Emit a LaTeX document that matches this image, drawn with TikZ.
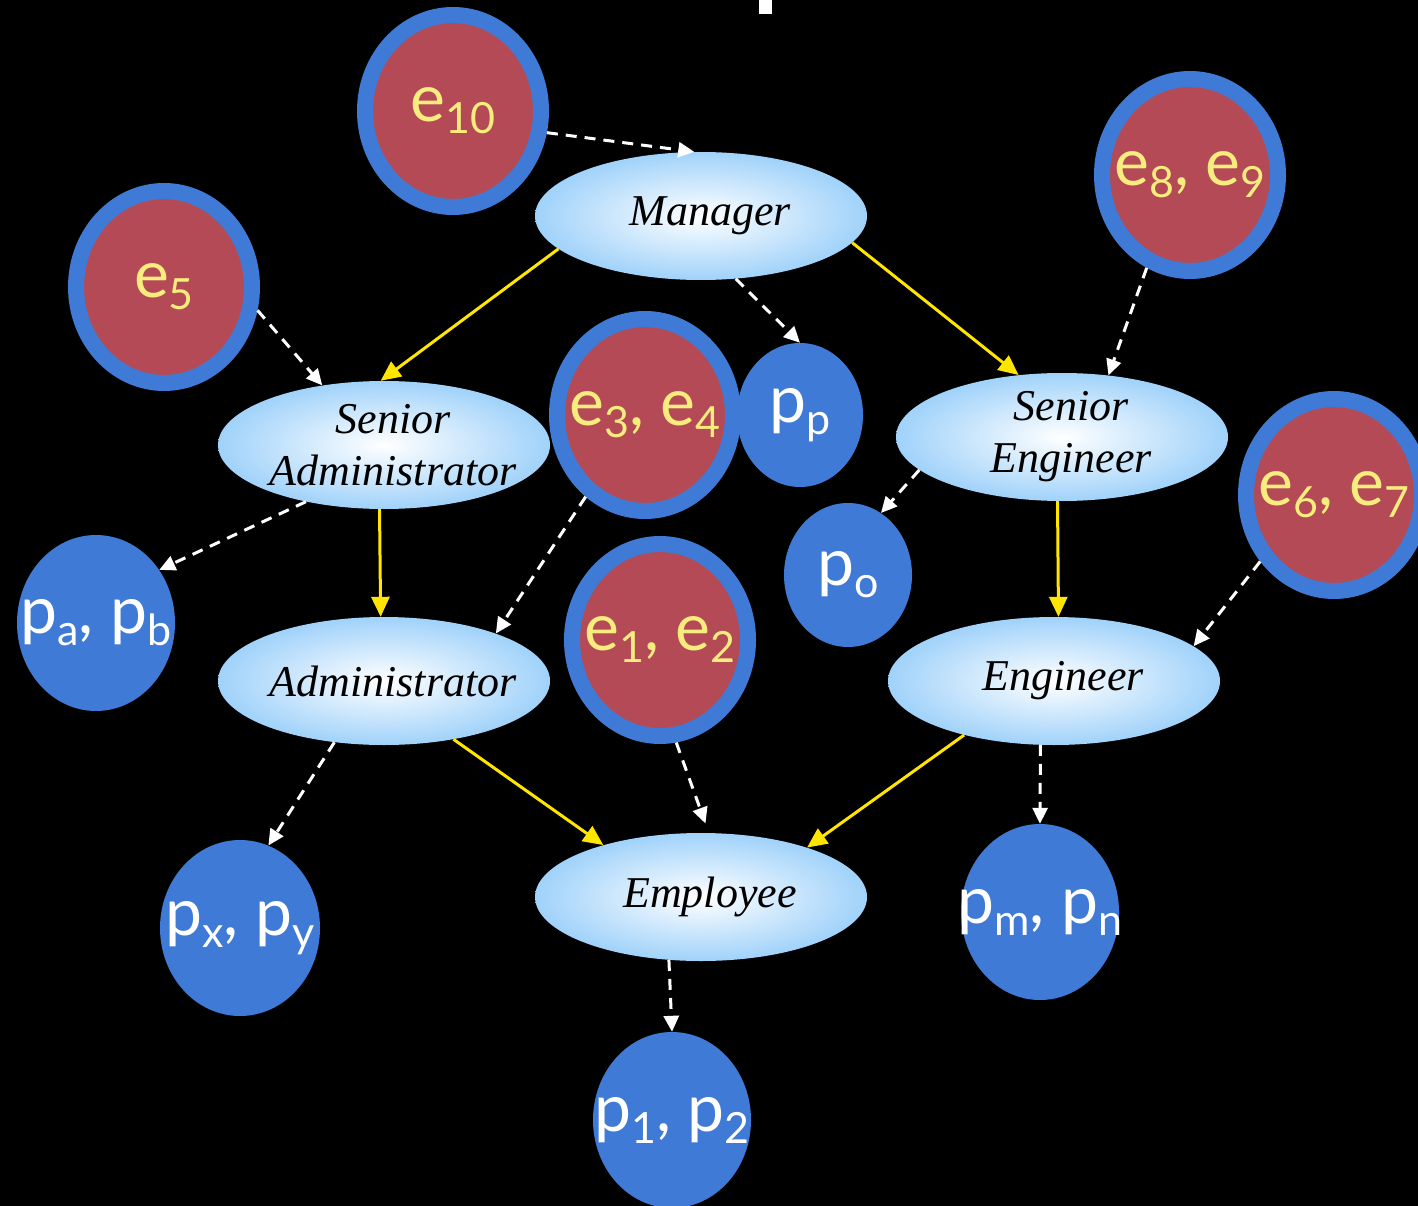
\documentclass[tikz,border=0pt]{standalone}
\usepackage{fontspec}
\setmainfont{Liberation Serif}
\newfontfamily\gsfont{Lato}
\usetikzlibrary{shapes.geometric,arrows.meta}
\definecolor{ered}{RGB}{180,74,85}
\definecolor{eblue}{RGB}{63,123,214}
\definecolor{etext}{RGB}{247,236,126}
\definecolor{ayellow}{RGB}{255,229,0}
\definecolor{rolblue}{RGB}{160,210,250}
\newcommand\lsub[1]{\raisebox{-12pt}{\fontsize{43}{43}\selectfont #1}}
\begin{document}
\begin{tikzpicture}[x=1pt,y=-1pt,
  etxt/.style={inner sep=0pt, text=etext, font=\gsfont\fontsize{66}{66}\selectfont},
  ptxt/.style={inner sep=0pt, text=white, font=\gsfont\fontsize{66}{66}\selectfont},
  roletext/.style={inner sep=0pt, xshift=9pt, align=center,
    font=\itshape\fontsize{44}{52}\selectfont},
  enode/.style={ellipse, fill=ered, draw=eblue, line width=16pt,
    minimum width=176pt, minimum height=192pt, inner sep=0pt,
    label={[etxt]center:{#1}}},
  pnode/.style={ellipse, fill=eblue, inner sep=0pt,
    label={[ptxt]center:{#1}}},
  psmall/.style={pnode={#1}, minimum width=126pt, minimum height=144pt},
  plarge/.style={pnode={#1}, minimum width=158pt, minimum height=176pt},
  rolenode/.style={ellipse, minimum width=332pt, minimum height=128pt,
    inner sep=0pt, inner color=white, outer color=rolblue, shade,
    label={[roletext]center:{#1}}},
  yarrow/.style={draw=ayellow, line width=3pt,
    -{Triangle[length=20pt,width=18pt]}},
  warrow/.style={draw=white, line width=3pt, dash pattern=on 11pt off 8pt,
    -{Triangle[length=16pt,width=15pt]}}
]
\fill[black] (0,0) rectangle (1418,1206);
\useasboundingbox (0,0) rectangle (1418,1206);
\clip (0,0) rectangle (1418,1206);
\fill[white] (759,0) rectangle (772,14);

% e-nodes
\node[enode={e\lsub{10}}] (e10) at (453,111) {};
\node[enode={e\lsub{8}, e\lsub{9}}] (e89) at (1190,175) {};
\node[enode={e\lsub{5}}] (e5)  at (164,287) {};
\node[enode={e\lsub{3}, e\lsub{4}}] (e34) at (645,415) {};
\node[enode={e\lsub{6}, e\lsub{7}}] (e67) at (1334,495) {};
\node[enode={e\lsub{1}, e\lsub{2}}] (e12) at (660,640) {};

% role nodes
\node[rolenode={Manager}] (mgr)  at (701,216) {};
\node[rolenode={Senior\\Administrator}] (sadm) at (384,445) {};
\node[rolenode={Senior\\Engineer}] (seng) at (1062,437) {};
\node[rolenode={Administrator}] (adm)  at (384,681) {};
\node[rolenode={Engineer}] (eng)  at (1054,681) {};
\node[rolenode={Employee}] (emp)  at (701,897) {};

% permission nodes
\node[psmall={p\lsub{p}}] (pp)  at (800,415) {};
\node[psmall={p\lsub{o}}, minimum width=128pt] (po) at (848,575) {};
\node[plarge={p\lsub{a}, p\lsub{b}}] (pab) at (96,623) {};
\node[plarge={p\lsub{x}, p\lsub{y}}, minimum width=160pt] (pxy) at (240,928) {};
\node[plarge={p\lsub{m}, p\lsub{n}}] (pmn) at (1040,912) {};
\node[plarge={p\lsub{1}, p\lsub{2}}] (p12) at (672,1120) {};

% hierarchy (yellow)
\draw[yarrow] (mgr.193.6) -- (sadm.93.5);
\draw[yarrow] (mgr.350.6) -- (seng.125.9);
\draw[yarrow] (sadm.266.5) -- (adm.93.6);
\draw[yarrow] (seng.266.5) -- (eng.86.4);
\draw[yarrow] (adm.320.3) -- (emp.152);
\draw[yarrow] (eng.211.2) -- (emp.25.7);

% assignments (white dashed)
\draw[warrow] (e10.347.7) -- (mgr.96.9);
\draw[warrow] (e5.346.1) -- (sadm.136.5);
\draw[warrow] (mgr.299.4) -- (pp.90);
\draw[warrow] (e89.245) -- (seng.53.9);
\draw[warrow] (sadm.216.5) -- (pab.40.7);
\draw[warrow] (e34.234) -- (adm.23.7);
\draw[warrow] (seng.193.1) -- (po.62.2);
\draw[warrow] (e67.222) -- (eng.14.4);
\draw[warrow] (adm.231.6) -- (pxy.71.6);
\draw[warrow, shorten >=10pt] (e12.279.8) -- (emp.83.2);
\draw[warrow] (eng.258) -- (pmn.90);
\draw[warrow] (emp.243) -- (p12.90);
\end{tikzpicture}
\end{document}
